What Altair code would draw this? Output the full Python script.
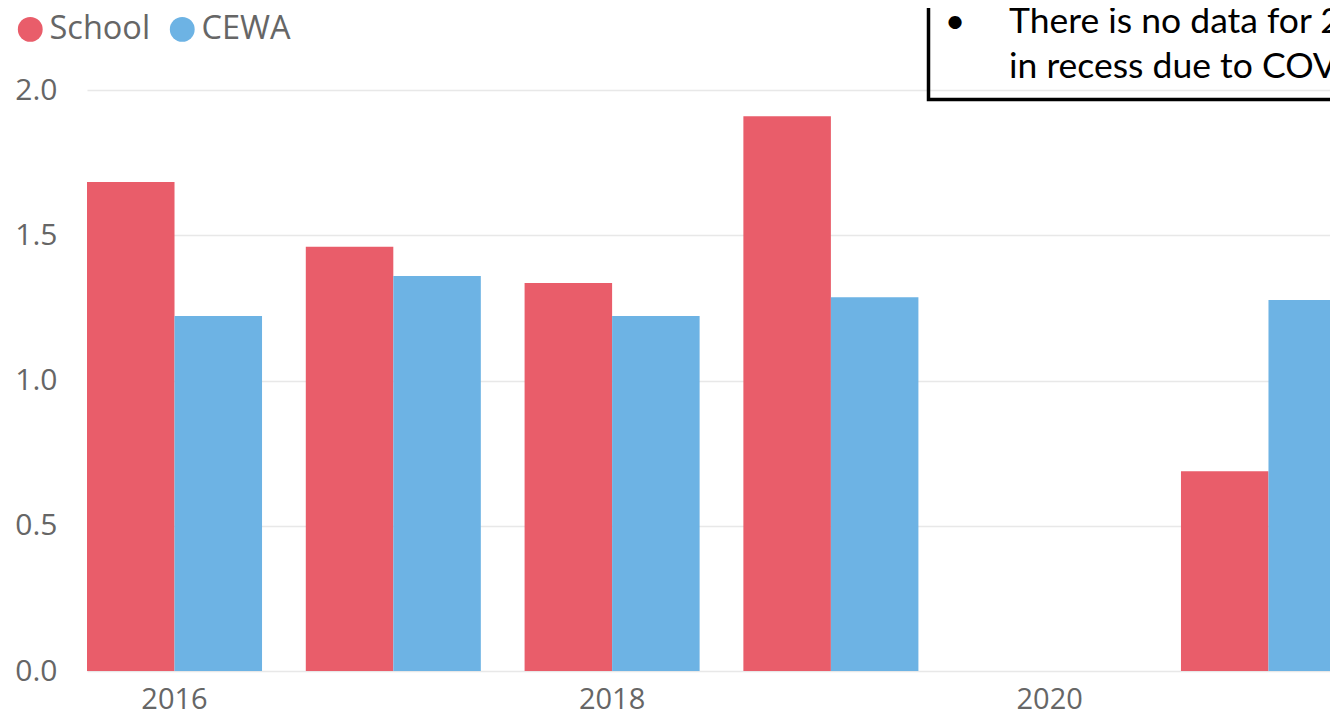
import altair as alt
import pandas as pd

# ---- data ----
years = [2016, 2017, 2018, 2019, 2021]
school = [1.683, 1.460, 1.336, 1.910, 0.688]
cewa = [1.222, 1.360, 1.222, 1.287, 1.277]
year_domain = [2016, 2017, 2018, 2019, 2020, 2021]
x_tick_labels = [2016, 2018, 2020]
series_names = ["School", "CEWA"]
series_colors = ["#E95D6A", "#6DB3E4"]
y_ticks = [0, 0.5, 1.0, 1.5, 2.0]
note_bullet = ["\u2022"]
note_lines = ["There is no data for 2020 as the school was", "in recess due to COVID-19."]

rows = []
for yr, s, c in zip(years, school, cewa):
    rows.append({"Year": yr, "Series": "School", "Value": s})
    rows.append({"Year": yr, "Series": "CEWA", "Value": c})
df = pd.DataFrame(rows)

FONT = "Open Sans"
GRAY = "#666666"

bars = alt.Chart(df).mark_bar().encode(
    x=alt.X(
        "Year:O",
        scale=alt.Scale(domain=year_domain, range=[0, 1269], paddingInner=0.2, paddingOuter=0),
        axis=alt.Axis(values=x_tick_labels, title=None, labelAngle=0, domain=False, ticks=False,
                      labelFontSize=29, labelColor=GRAY, labelPadding=14, labelFont=FONT, grid=False),
    ),
    xOffset=alt.XOffset("Series:N", sort=series_names,
                        scale=alt.Scale(domain=series_names, paddingInner=0, paddingOuter=0)),
    y=alt.Y(
        "Value:Q",
        scale=alt.Scale(domain=[0, 2]),
        axis=alt.Axis(values=y_ticks, format=".1f", title=None, domain=False, ticks=False,
                      labelFontSize=30, labelColor=GRAY, labelPadding=30, labelFont=FONT,
                      gridColor="#E8E8E8", gridWidth=1.5),
    ),
    color=alt.Color(
        "Series:N",
        scale=alt.Scale(domain=series_names, range=series_colors),
        legend=alt.Legend(title=None, orient="none", legendX=-73, legendY=-77, direction="horizontal",
                          symbolType="circle", symbolSize=615, symbolStrokeWidth=0, symbolOpacity=1,
                          labelFontSize=32.5, labelColor=GRAY, labelFont=FONT, labelOffset=3,
                          columnPadding=15, padding=0),
    ),
)

box = alt.Chart(pd.DataFrame({"k": [0]})).mark_rect(
    fillOpacity=0, stroke="black", strokeWidth=3.5
).encode(
    x=alt.value(841.5), x2=alt.value(1600), y=alt.value(-150), y2=alt.value(9.5)
)

bullet = alt.Chart(pd.DataFrame({"t": note_bullet})).mark_text(
    align="center", baseline="alphabetic", font="Lato", fontSize=35.5, color="black"
).encode(x=alt.value(868), y=alt.value(-57), text="t:N")

note = alt.Chart(pd.DataFrame({"k": [0]})).mark_text(
    align="left", baseline="alphabetic", font="Lato", fontSize=35.5, color="black", lineHeight=45
).encode(x=alt.value(922), y=alt.value(-57), text=alt.value(note_lines))

chart = alt.layer(bars, box, bullet, note).properties(
    width=1243, height=581,
    autosize=alt.AutoSizeParams(type="none"),
    padding={"left": 79, "top": 82, "right": 0, "bottom": 40},
).configure_view(stroke=None)

chart.save("out.html", embed_options={"renderer": "svg", "actions": False})
